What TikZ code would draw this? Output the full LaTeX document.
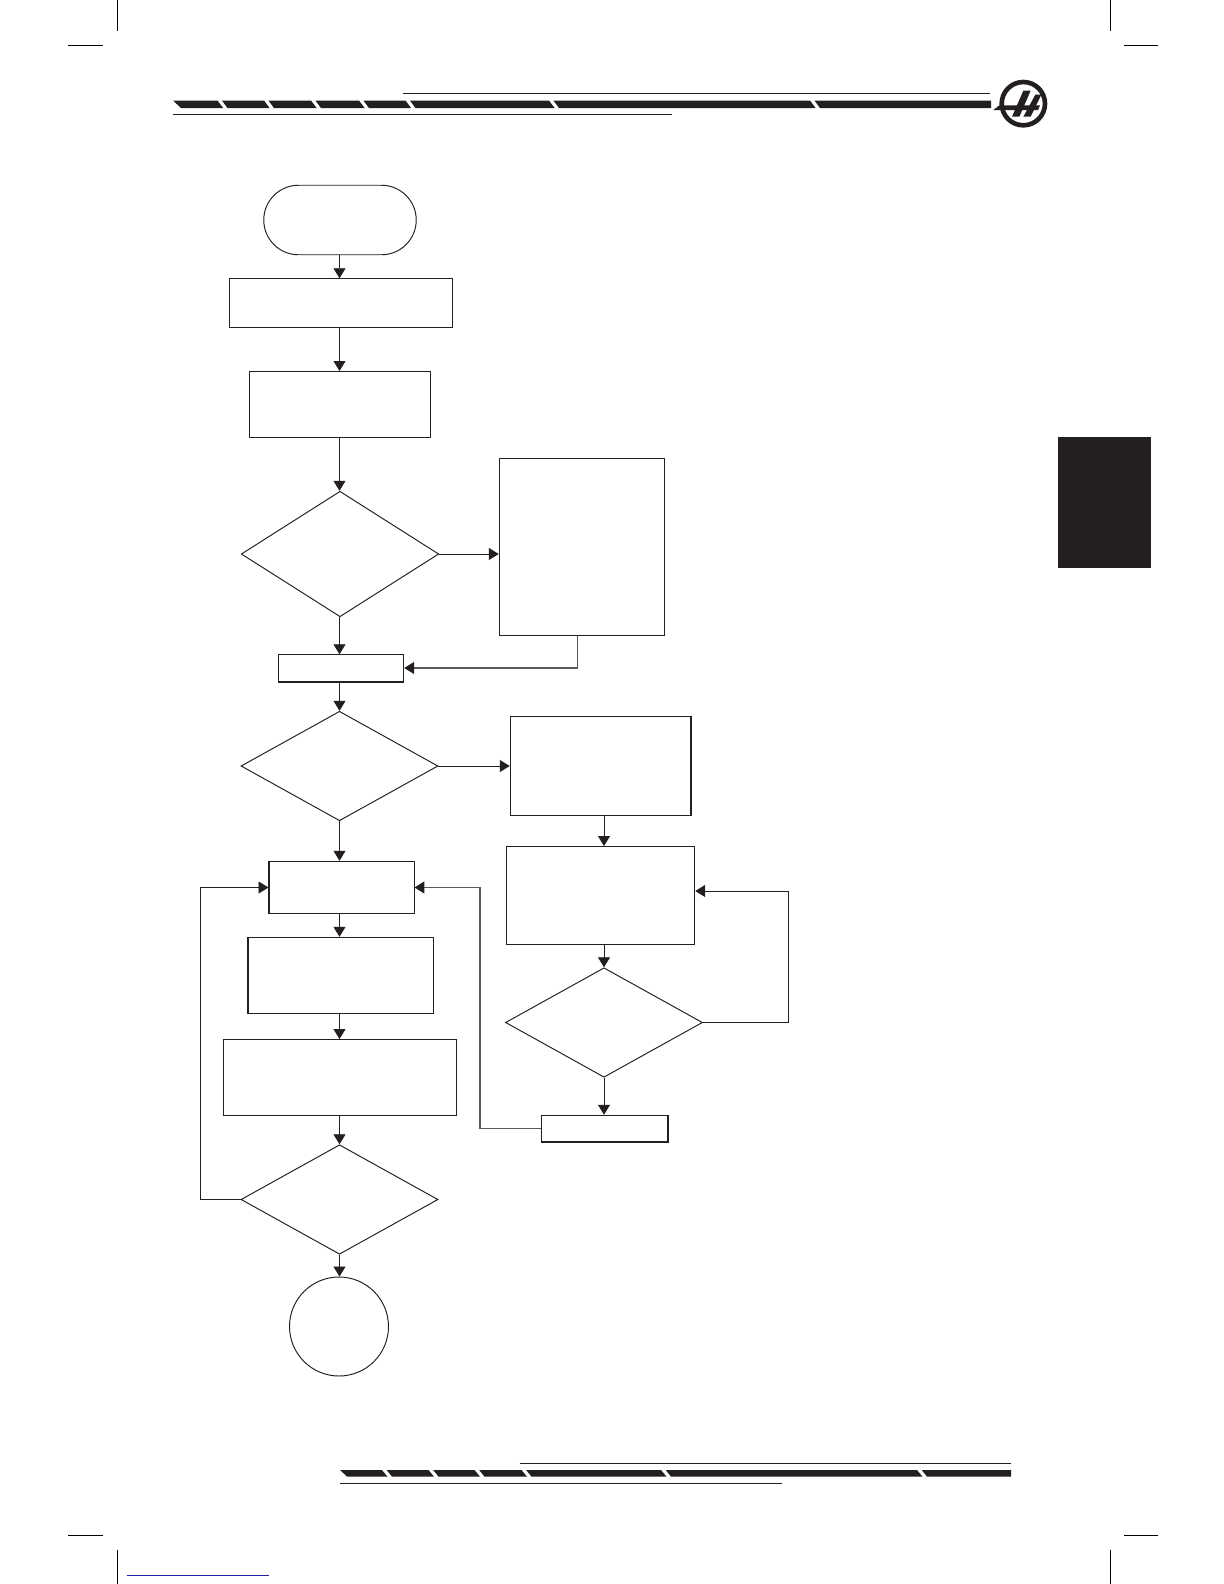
\documentclass[tikz,border=0pt]{standalone}
\usepackage{xcolor}
\usetikzlibrary{arrows.meta,positioning,shapes,calc}
\definecolor{ink}{HTML}{231F20}
\definecolor{inkgray}{HTML}{5A5A5A}
\definecolor{linkblue}{HTML}{2020A0}
\tikzset{
  procbox/.style={draw=ink,fill=white,line width=0.55pt,inner sep=0pt},
  choice/.style={draw=ink,fill=white,line width=0.55pt,diamond,aspect=1,
                 inner sep=0pt,minimum width=3.94cm,minimum height=2.19cm},
  terminal/.style={draw=ink,fill=white,line width=0.55pt,rounded rectangle,
                   inner sep=0pt},
  endcircle/.style={draw=ink,fill=white,line width=0.55pt,circle,inner sep=0pt,
                    minimum size=1.98cm},
  flowarr/.style={-{Triangle[length=2mm,width=2.4mm]},line width=0.5pt,
                  draw=ink},
  grayarr/.style={-{Triangle[length=2mm,width=2.4mm,color=ink]},line width=0.8pt,
                  draw=inkgray},
  heavyedge/.style={draw=ink,line width=1.1pt},
  rule/.style={draw=ink,line width=0.6pt},
  cropmark/.style={draw=black,line width=0.5pt},
  gapslash/.style={draw=white,line width=0.065cm},
  band/.style={fill=ink,draw=none}
}
\begin{document}
\begin{tikzpicture}[x=1cm,y=1cm]
    \path[use as bounding box,fill=white] (0,0) rectangle (24.48,-31.68);

    \draw[cropmark] (2.34,0) -- (2.34,-0.61);
    \draw[cropmark] (22.2,0) -- (22.2,-0.61);
    \draw[cropmark] (2.34,-31) -- (2.34,-31.68);
    \draw[cropmark] (22.2,-31) -- (22.2,-31.68);
    \draw[cropmark] (1.36,-0.9) -- (2.06,-0.9);
    \draw[cropmark] (22.48,-0.9) -- (23.16,-0.9);
    \draw[cropmark] (1.36,-30.7) -- (2.06,-30.7);
    \draw[cropmark] (22.48,-30.7) -- (23.16,-30.7);
    \draw[linkblue,line width=0.7pt] (2.53,-31.51) -- (5.38,-31.51);

    \draw[rule] (8.06,-1.87) -- (19.8,-1.87);
    \draw[rule] (3.46,-2.29) -- (13.43,-2.29);
    \fill[band] (3.46,-2.01) -- (19.82,-2.01) -- (19.82,-2.16) -- (3.62,-2.16) -- cycle;
    \foreach \gx in {4.45,5.38,6.32,7.28,8.21,11.08,16.30}
      \draw[gapslash] (\gx-0.07,-1.99) -- (\gx+0.07,-2.18);

    \draw[ink,line width=0.093cm] (20.467,-2.073) circle (0.433);
    \fill[ink] (19.867,-2.2) -- (19.987,-2.107) -- (20.8,-2.107) -- (20.76,-2.2) -- cycle;
    \fill[ink] (20.467,-1.813) -- (20.613,-1.813) -- (20.387,-2.333) -- (20.24,-2.333) -- cycle;
    \fill[ink] (20.707,-1.893) -- (20.827,-1.893) -- (20.613,-2.333) -- (20.467,-2.333) -- cycle;

    \draw[rule] (10.39,-29.27) -- (20.22,-29.27);
    \draw[rule] (6.80,-29.67) -- (15.64,-29.67);
    \fill[band] (6.80,-29.40) -- (20.22,-29.40) -- (20.22,-29.53) -- (6.94,-29.53) -- cycle;
    \foreach \gx in {7.74,8.67,9.59,10.53,13.32,18.44}
      \draw[gapslash] (\gx-0.07,-29.38) -- (\gx+0.07,-29.55);

    \fill[ink] (21.16,-8.74) rectangle (23.02,-11.35);

    \coordinate (spine) at (6.79,0);
    \coordinate (sidespine) at (12.08,0);

    \node[terminal,minimum width=3.05cm,minimum height=1.39cm] (start) at (6.80,-4.40) {};
    \node[procbox,minimum width=4.47cm,minimum height=0.97cm] (setup) at (6.82,-6.06) {};
    \node[procbox,minimum width=3.63cm,minimum height=1.32cm] (prep) at (6.80,-8.09) {};
    \node[choice,minimum width=3.95cm,minimum height=2.51cm] (firstq) at (6.80,-11.08) {};
    \node[procbox,minimum width=3.31cm,minimum height=3.54cm] (sidebox) at (11.64,-10.94) {};
    \node[procbox,minimum width=2.51cm,minimum height=0.53cm] (merge) at (6.82,-13.36) {};
    \node[choice] (secondq) at (6.79,-15.32) {};
    \node[procbox,minimum width=3.61cm,minimum height=1.98cm] (rightone) at (12.01,-15.32) {};
    \node[procbox,minimum width=3.77cm,minimum height=1.96cm] (righttwo) at (12.01,-17.91) {};
    \node[choice] (thirdq) at (12.08,-20.45) {};
    \node[procbox,minimum width=2.52cm,minimum height=0.53cm] (rejoin) at (12.09,-22.57) {};
    \node[procbox,minimum width=2.90cm,minimum height=1.05cm] (loophead) at (6.83,-17.75) {};
    \node[procbox,minimum width=3.70cm,minimum height=1.53cm] (loopmid) at (6.82,-19.51) {};
    \node[procbox,minimum width=4.66cm,minimum height=1.52cm] (looplow) at (6.79,-21.55) {};
    \node[choice] (lastq) at (6.79,-23.99) {};
    \node[endcircle] (finish) at (6.78,-26.53) {};

    \coordinate (rejoinjog) at (9.60,-22.57);
    \coordinate (leftjog) at (4.01,-23.99);
    \coordinate (rightjog) at (15.76,-20.45);

    \foreach \from/\to in {start/setup,setup/prep,prep/firstq,firstq/merge,merge/secondq,
                           secondq/loophead,loophead/loopmid,loopmid/looplow,
                           looplow/lastq,lastq/finish}
      \draw[flowarr] (spine |- \from.south) -- (spine |- \to.north);
    \foreach \from/\to in {rightone/righttwo,righttwo/thirdq,thirdq/rejoin}
      \draw[flowarr] (sidespine |- \from.south) -- (sidespine |- \to.north);

    \draw[flowarr] (firstq.east) -- (firstq.east -| sidebox.west);
    \draw[grayarr] ([xshift=-0.09cm]sidebox.south) |- (merge.east);
    \draw[flowarr] (secondq.east) -- (rightone.west);
    \draw[flowarr] (thirdq.east) -- (rightjog) |- ([yshift=0.09cm]righttwo.east);
    \draw[grayarr] (rejoin.west) -- (rejoinjog) |- (loophead.east);
    \draw[flowarr] (lastq.west) -- (leftjog) |- (loophead.west);

    \draw[heavyedge] (merge.south west) -- (merge.south east);
    \draw[heavyedge] (rejoin.south west) -- (rejoin.south east) -- (rejoin.north east);
    \draw[heavyedge] (rightone.north east) -- (rightone.south east);
    \draw[heavyedge] (loophead.north west) -- (loophead.south west);
    \draw[heavyedge] (loopmid.north west) -- (loopmid.south west);
    \draw[heavyedge] (looplow.north east) -- (looplow.south east);
  \end{tikzpicture}
\end{document}
